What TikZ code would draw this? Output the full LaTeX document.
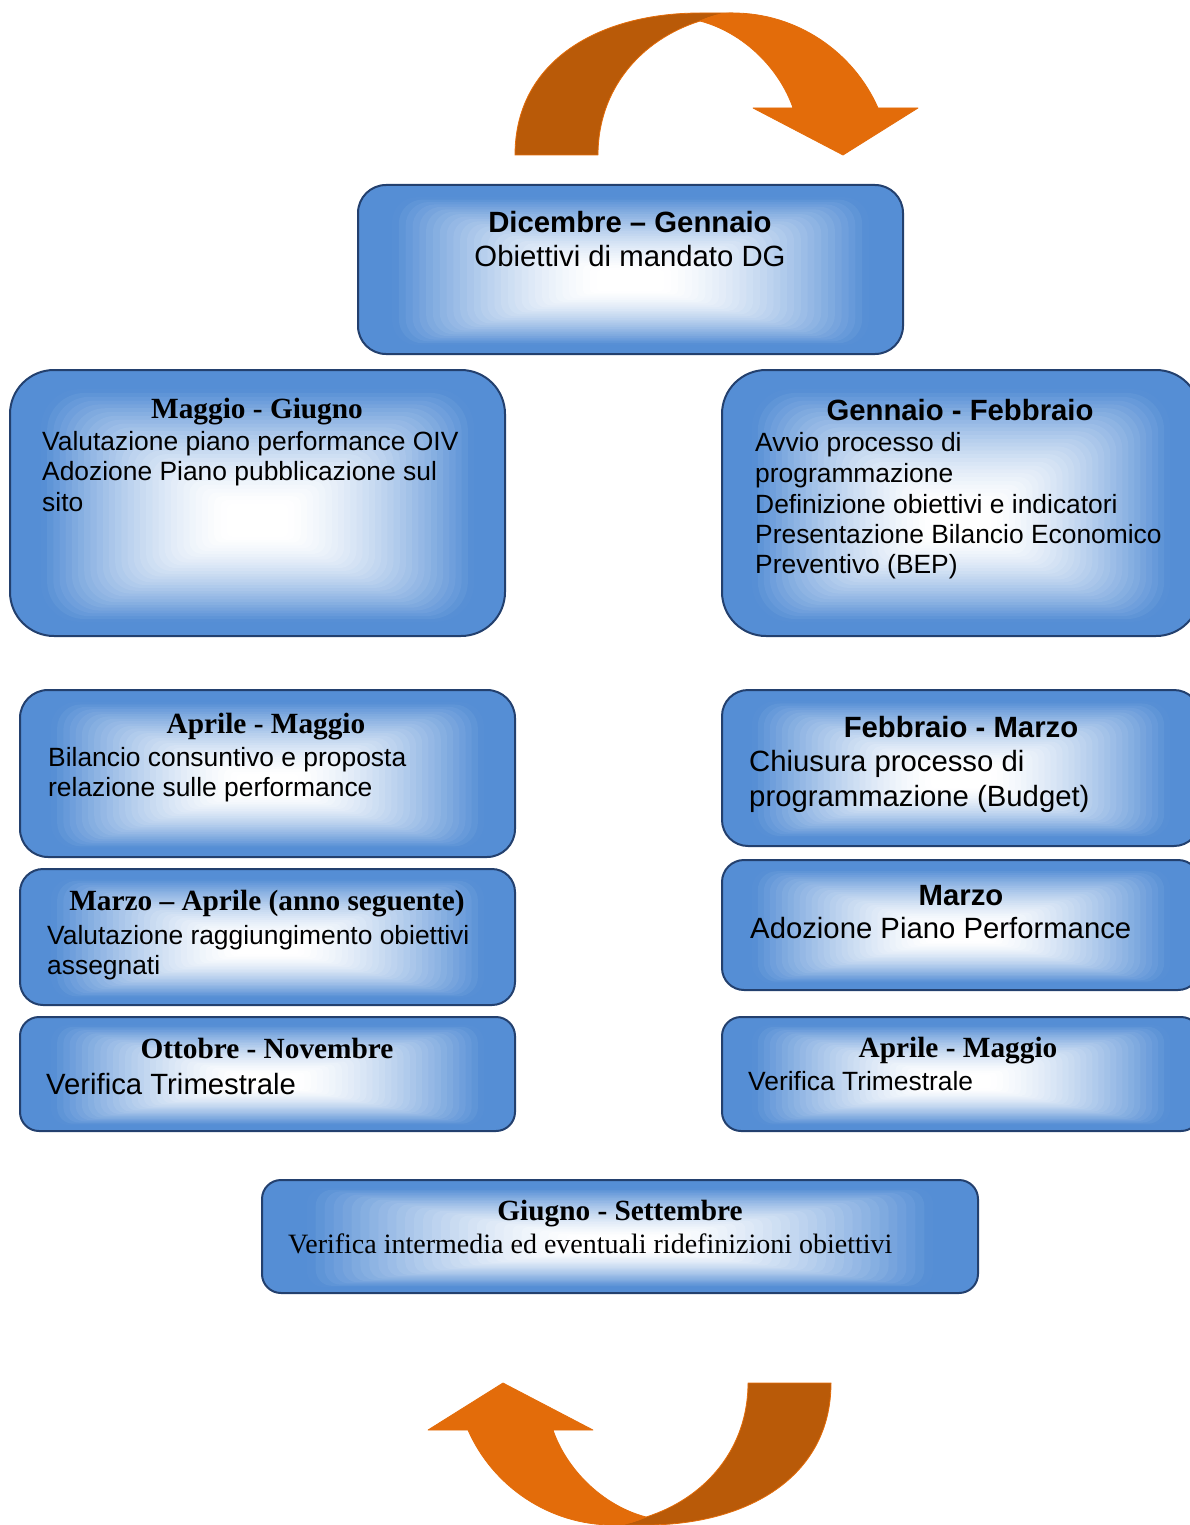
\documentclass[tikz,border=0pt]{standalone}
\usepackage{fontspec}
\setmainfont{Liberation Sans}
\newfontfamily\garafont{Liberation Serif}
\definecolor{boxblue}{HTML}{558ED5}
\definecolor{boxline}{HTML}{23406E}
\definecolor{arrdark}{HTML}{B95A08}
\definecolor{arrorange}{HTML}{E36C0A}
\newcommand\gradbox[6]{%
  \pgfmathsetmacro\gbCX{(#2+#4)/2}%
  \pgfmathsetmacro\gbCY{(#3+#5)/2}%
  \pgfmathsetmacro\gbHW{(#4-#2)/2}%
  \pgfmathsetmacro\gbHH{(#5-#3)/2}%
  \pgfmathsetmacro\gbW{#4-#2}%
  \pgfmathsetmacro\gbH{#5-#3}%
  \foreach \gbK in {0,...,40}{%
    \pgfmathsetmacro\gbR{1-\gbK/40}%
    \pgfmathsetmacro\gbS{max(0,min(1,(\gbR-0.12)/0.76))}%
    \pgfmathsetmacro\gbP{100*\gbS*sqrt(\gbS)}%
    \pgfmathsetmacro\gbOY{(1-\gbR)*0.15*\gbHH}%
    \pgfmathsetmacro\gbRad{max(0.5,#6*\gbR)}%
    \fill[boxblue!\gbP!white, rounded corners=\gbRad pt]
      (\gbCX-\gbR*\gbHW, \gbCY+\gbOY-\gbR*\gbHH) rectangle (\gbCX+\gbR*\gbHW, \gbCY+\gbOY+\gbR*\gbHH);
  }%
  \node[boxframe, minimum width=\gbW pt, minimum height=\gbH pt, rounded corners=#6pt] (#1) at (\gbCX,\gbCY) {};%
}
\begin{document}
\begin{tikzpicture}[x=1pt,y=-1pt,
  boxframe/.style={draw=boxline, line width=2pt, inner sep=0pt, outer sep=0pt, shape=rectangle},
  tsans/.style={font=\fontsize{29.3}{34}\selectfont\bfseries, inner sep=0pt, anchor=base},
  tserif/.style={font=\garafont\fontsize{29.3}{34}\selectfont\bfseries, inner sep=0pt, anchor=base},
  bmid/.style={font=\fontsize{26.4}{30}\selectfont, inner sep=0pt, anchor=base west},
  bbig/.style={font=\fontsize{29.3}{34}\selectfont, inner sep=0pt, anchor=base west},
  bserif/.style={font=\garafont\fontsize{28}{32}\selectfont, inner sep=0pt, anchor=base west},
  darkpart/.style={fill=arrdark, draw=arrorange, line width=0.8pt, line join=round},
  orangepart/.style={fill=arrorange, draw=arrorange, line width=0.8pt, line join=round}
]
\useasboundingbox (0,0) rectangle (1190,1525);
\clip (0,0) rectangle (1190,1525);

% top curved arrow
\begin{scope}
  \path[darkpart] (515,155) .. controls (515,60) and (600,13) .. (700,13) -- (733,13)
    .. controls (722,13) and (712,16) .. (700,21)
    .. controls (640,40) and (598,90) .. (598,155) -- cycle;
  \path[orangepart] (700,21) .. controls (712,16) and (722,13) .. (733,13)
    .. controls (796,13) and (853,51) .. (878,108) -- (918,108) -- (843,155) -- (753,108) -- (793,108)
    .. controls (780,70) and (745,33) .. (700,21) -- cycle;
\end{scope}
% bottom curved arrow (same shape turned half round)
\begin{scope}[rotate around={180:(673,769)}]
  \path[darkpart] (515,155) .. controls (515,60) and (600,13) .. (700,13) -- (733,13)
    .. controls (722,13) and (712,16) .. (700,21)
    .. controls (640,40) and (598,90) .. (598,155) -- cycle;
  \path[orangepart] (700,21) .. controls (712,16) and (722,13) .. (733,13)
    .. controls (796,13) and (853,51) .. (878,108) -- (918,108) -- (843,155) -- (753,108) -- (793,108)
    .. controls (780,70) and (745,33) .. (700,21) -- cycle;
\end{scope}

% boxes
\gradbox{dic}{358}{185}{903}{354}{28}
\gradbox{mag}{10}{370}{505}{636}{44}
\gradbox{gen}{722}{370}{1200}{636}{44}
\gradbox{aprl}{20}{690}{515}{857}{28}
\gradbox{feb}{722}{690}{1200}{846}{26}
\gradbox{mar}{20}{869}{515}{1005}{23}
\gradbox{marz}{722}{860}{1200}{990}{22}
\gradbox{ott}{20}{1017}{515}{1131}{19}
\gradbox{aprr}{722}{1017}{1200}{1131}{19}
\gradbox{giu}{262}{1180}{978}{1293}{19}

% texts
\node[tsans] (dict) at (630,232) {Dicembre – Gennaio};
\node[bbig, anchor=base] (dicb) at (630,266) {Obiettivi di mandato DG};

\node[tserif] (magt) at (257,418) {Maggio - Giugno};
\node[bmid] (magb1) at (42,450) {Valutazione piano performance OIV};
\node[bmid] (magb2) at (42,480) {Adozione Piano pubblicazione sul};
\node[bmid] (magb3) at (42,511) {sito};

\node[tsans] (gent) at (960,420) {Gennaio - Febbraio};
\node[bmid] (genb1) at (755,451) {Avvio processo di};
\node[bmid] (genb2) at (755,482) {programmazione};
\node[bmid] (genb3) at (755,513) {Definizione obiettivi e indicatori};
\node[bmid] (genb4) at (755,543) {Presentazione Bilancio Economico};
\node[bmid] (genb5) at (755,573) {Preventivo (BEP)};

\node[tserif] (aprlt) at (266,733) {Aprile - Maggio};
\node[bmid] (aprlb1) at (48,766) {Bilancio consuntivo e proposta};
\node[bmid] (aprlb2) at (48,796) {relazione sulle performance};

\node[tsans] (febt) at (961,737) {Febbraio - Marzo};
\node[bbig] (febb1) at (749,771) {Chiusura processo di};
\node[bbig] (febb2) at (749,806) {programmazione (Budget)};

\node[tserif] (mart) at (267,910) {Marzo – Aprile (anno seguente)};
\node[bmid] (marb1) at (47,944) {Valutazione raggiungimento obiettivi};
\node[bmid] (marb2) at (47,974) {assegnati};

\node[tsans] (marzt) at (961,905) {Marzo};
\node[bbig] (marzb) at (750,938) {Adozione Piano Performance};

\node[tserif] (ottt) at (267,1058) {Ottobre - Novembre};
\node[bbig] (ottb) at (46,1094) {Verifica Trimestrale};

\node[tserif] (aprrt) at (958,1057) {Aprile - Maggio};
\node[bmid] (aprrb) at (748,1090) {Verifica Trimestrale};

\node[tserif] (giut) at (620,1220) {Giugno - Settembre};
\node[bserif] (giub) at (288,1253) {Verifica intermedia ed eventuali ridefinizioni obiettivi};
\end{tikzpicture}
\end{document}
